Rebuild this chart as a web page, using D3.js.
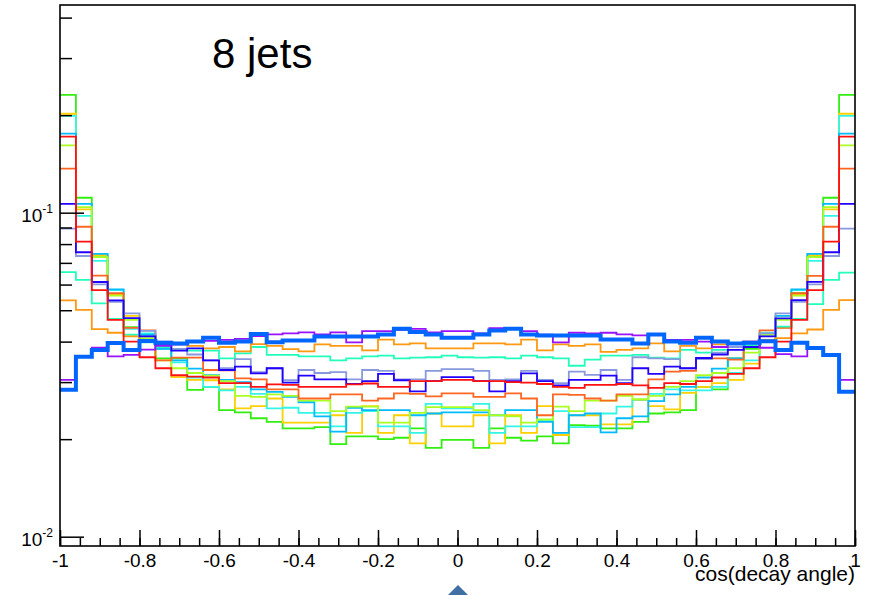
<!DOCTYPE html>
<html>
<head>
<meta charset="utf-8">
<script src="https://cdn.jsdelivr.net/npm/d3@7"></script>
<style>
  body { margin: 0; background: #fff; }
  svg { display: block; }
  text { font-family: "Liberation Sans", Arial, Helvetica, sans-serif; fill: #000; }
</style>
</head>
<body>
<svg id="chart" width="869" height="595"></svg>
<script>
// Histogram binning: 50 bins over cos(decay angle) in [-1, 1]
const binLow = -1, binHigh = 1, nBins = 50;

// Normalised distributions, one per sample (bin contents, left to right)
const greenVals = [0.2310,0.1112,0.0729,0.0560,0.0443,0.0400,0.0355,0.0355,0.0284,0.0290,
  0.0246,0.0242,0.0232,0.0226,0.0216,0.0216,0.0218,0.0193,0.0204,0.0204,
  0.0200,0.0202,0.0216,0.0188,0.0199,0.0199,0.0188,0.0216,0.0202,0.0198,
  0.0204,0.0194,0.0221,0.0220,0.0216,0.0216,0.0226,0.0240,0.0242,0.0246,
  0.0290,0.0285,0.0355,0.0380,0.0400,0.0443,0.0564,0.0729,0.1112,0.2310];
const goldVals = [0.2020,0.1024,0.0740,0.0560,0.0480,0.0420,0.0385,0.0311,0.0305,0.0304,
  0.0285,0.0249,0.0253,0.0267,0.0225,0.0225,0.0225,0.0237,0.0209,0.0253,
  0.0209,0.0237,0.0194,0.0240,0.0219,0.0219,0.0237,0.0194,0.0237,0.0209,
  0.0253,0.0206,0.0237,0.0237,0.0222,0.0222,0.0264,0.0253,0.0247,0.0278,
  0.0290,0.0298,0.0305,0.0342,0.0424,0.0480,0.0560,0.0740,0.1024,0.2020];
const cyanVals = [0.1990,0.0977,0.0710,0.0577,0.0438,0.0424,0.0380,0.0345,0.0310,0.0290,
  0.0283,0.0290,0.0276,0.0249,0.0250,0.0241,0.0241,0.0219,0.0241,0.0244,
  0.0219,0.0219,0.0209,0.0257,0.0249,0.0249,0.0257,0.0209,0.0219,0.0219,
  0.0229,0.0244,0.0218,0.0218,0.0240,0.0252,0.0265,0.0276,0.0285,0.0283,
  0.0283,0.0290,0.0320,0.0350,0.0426,0.0470,0.0577,0.0710,0.0977,0.1990];
const skyVals = [0.1753,0.1064,0.0746,0.0580,0.0470,0.0420,0.0380,0.0350,0.0330,0.0315,
  0.0305,0.0300,0.0285,0.0280,0.0270,0.0260,0.0235,0.0211,0.0250,0.0246,
  0.0246,0.0246,0.0237,0.0240,0.0242,0.0242,0.0242,0.0237,0.0246,0.0246,
  0.0226,0.0209,0.0237,0.0240,0.0210,0.0232,0.0235,0.0262,0.0275,0.0290,
  0.0310,0.0330,0.0355,0.0385,0.0420,0.0480,0.0580,0.0746,0.1064,0.1753];
const limeVals = [0.1614,0.1040,0.0729,0.0555,0.0467,0.0410,0.0350,0.0331,0.0320,0.0314,
  0.0302,0.0272,0.0270,0.0275,0.0272,0.0263,0.0263,0.0244,0.0252,0.0252,
  0.0225,0.0225,0.0241,0.0251,0.0251,0.0251,0.0246,0.0237,0.0235,0.0225,
  0.0230,0.0252,0.0244,0.0263,0.0263,0.0272,0.0266,0.0272,0.0290,0.0302,
  0.0315,0.0320,0.0331,0.0370,0.0420,0.0467,0.0555,0.0729,0.1040,0.1614];
const orangeRedVals = [0.1367,0.0905,0.0639,0.0564,0.0441,0.0433,0.0350,0.0357,0.0357,0.0327,
  0.0326,0.0308,0.0306,0.0285,0.0285,0.0267,0.0267,0.0275,0.0275,0.0263,
  0.0267,0.0277,0.0276,0.0271,0.0277,0.0277,0.0270,0.0270,0.0277,0.0267,
  0.0237,0.0275,0.0274,0.0267,0.0263,0.0275,0.0275,0.0306,0.0323,0.0325,
  0.0355,0.0355,0.0352,0.0395,0.0433,0.0441,0.0564,0.0638,0.0905,0.1367];
const tealVals = [0.0655,0.0620,0.0525,0.0470,0.0420,0.0398,0.0385,0.0380,0.0375,0.0375,
  0.0355,0.0368,0.0385,0.0364,0.0364,0.0360,0.0360,0.0350,0.0355,0.0360,
  0.0362,0.0355,0.0357,0.0358,0.0362,0.0358,0.0357,0.0358,0.0355,0.0362,
  0.0358,0.0355,0.0337,0.0352,0.0362,0.0362,0.0364,0.0357,0.0355,0.0377,
  0.0370,0.0377,0.0385,0.0390,0.0405,0.0445,0.0470,0.0522,0.0620,0.0653];
const orangeVals = [0.0536,0.0501,0.0437,0.0426,0.0415,0.0405,0.0395,0.0392,0.0388,0.0381,
  0.0385,0.0373,0.0393,0.0388,0.0379,0.0373,0.0392,0.0388,0.0388,0.0376,
  0.0406,0.0392,0.0395,0.0381,0.0381,0.0381,0.0395,0.0395,0.0392,0.0406,
  0.0376,0.0392,0.0388,0.0392,0.0372,0.0377,0.0381,0.0395,0.0373,0.0388,
  0.0381,0.0392,0.0395,0.0400,0.0405,0.0410,0.0424,0.0436,0.0501,0.0537];
const slateVals = [0.0893,0.0735,0.0601,0.0531,0.0489,0.0432,0.0400,0.0380,0.0365,0.0350,
  0.0331,0.0353,0.0322,0.0331,0.0304,0.0327,0.0320,0.0322,0.0306,0.0327,
  0.0325,0.0306,0.0306,0.0325,0.0329,0.0329,0.0325,0.0305,0.0306,0.0325,
  0.0305,0.0298,0.0323,0.0316,0.0327,0.0305,0.0358,0.0355,0.0353,0.0331,
  0.0353,0.0370,0.0385,0.0385,0.0424,0.0489,0.0531,0.0601,0.0735,0.0893];
const blueVals = [0.1064,0.0755,0.0611,0.0536,0.0473,0.0415,0.0390,0.0375,0.0381,0.0350,
  0.0327,0.0335,0.0319,0.0331,0.0299,0.0314,0.0306,0.0306,0.0296,0.0302,
  0.0318,0.0304,0.0281,0.0302,0.0311,0.0311,0.0302,0.0281,0.0302,0.0319,
  0.0302,0.0293,0.0305,0.0305,0.0314,0.0298,0.0331,0.0318,0.0335,0.0331,
  0.0356,0.0365,0.0377,0.0385,0.0415,0.0472,0.0537,0.0612,0.0755,0.1064];
const violetVals = [0.0305,0.0360,0.0383,0.0360,0.0364,0.0378,0.0388,0.0392,0.0400,0.0402,
  0.0405,0.0408,0.0416,0.0421,0.0424,0.0427,0.0421,0.0427,0.0398,0.0431,
  0.0431,0.0435,0.0438,0.0427,0.0431,0.0431,0.0424,0.0440,0.0440,0.0431,
  0.0420,0.0398,0.0426,0.0424,0.0426,0.0421,0.0418,0.0421,0.0405,0.0405,
  0.0400,0.0385,0.0395,0.0400,0.0383,0.0366,0.0360,0.0384,0.0364,0.0305];
const redVals = [0.1717,0.0814,0.0577,0.0467,0.0400,0.0358,0.0331,0.0315,0.0312,0.0310,
  0.0298,0.0298,0.0290,0.0295,0.0294,0.0290,0.0290,0.0290,0.0295,0.0297,
  0.0290,0.0290,0.0302,0.0302,0.0305,0.0305,0.0302,0.0302,0.0300,0.0299,
  0.0296,0.0290,0.0288,0.0294,0.0294,0.0296,0.0293,0.0288,0.0298,0.0296,
  0.0302,0.0310,0.0318,0.0331,0.0358,0.0400,0.0467,0.0577,0.0814,0.1717];
const thickBlueVals = [0.0284,0.0359,0.0377,0.0396,0.0377,0.0402,0.0397,0.0395,0.0400,0.0411,
  0.0397,0.0400,0.0422,0.0398,0.0403,0.0403,0.0415,0.0415,0.0415,0.0415,
  0.0421,0.0438,0.0428,0.0421,0.0411,0.0411,0.0421,0.0433,0.0438,0.0421,
  0.0418,0.0418,0.0418,0.0418,0.0406,0.0406,0.0395,0.0421,0.0400,0.0397,
  0.0411,0.0400,0.0395,0.0397,0.0401,0.0377,0.0397,0.0382,0.0364,0.0280];

// Axis ticks and labels
const xMajorTicks = [-1, -0.8, -0.6, -0.4, -0.2, 0, 0.2, 0.4, 0.6, 0.8, 1];
const xTickLabels = ["-1", "-0.8", "-0.6", "-0.4", "-0.2", "0", "0.2", "0.4", "0.6", "0.8", "1"];
const yMajorTicks = [0.01, 0.1];
const yTickExponents = ["-2", "-1"];
const yMinorTicks = [0.02, 0.03, 0.04, 0.05, 0.06, 0.07, 0.08, 0.09, 0.2, 0.3, 0.4];
const xTitle = "cos(decay angle)";
const panelTitle = "8 jets";

// Drawing order: later entries are painted on top
const series = [
  { vals: greenVals,     color: "#33ee11", width: 1.8 },
  { vals: goldVals,      color: "#ffd000", width: 1.8 },
  { vals: cyanVals,      color: "#33f5e6", width: 1.8 },
  { vals: skyVals,       color: "#00bbff", width: 1.8 },
  { vals: limeVals,      color: "#aaff22", width: 1.8 },
  { vals: orangeRedVals, color: "#ff6622", width: 1.8 },
  { vals: tealVals,      color: "#22ffbb", width: 1.8 },
  { vals: orangeVals,    color: "#ff9911", width: 1.8 },
  { vals: slateVals,     color: "#8899dd", width: 1.8 },
  { vals: blueVals,      color: "#2200ff", width: 1.8 },
  { vals: violetVals,    color: "#9911ff", width: 1.8 },
  { vals: redVals,       color: "#ff1111", width: 1.8 },
  { vals: thickBlueVals, color: "#0066ff", width: 4 }
];

const svg = d3.select("#chart");
const frame = { left: 60, right: 855, top: 5, bottom: 546 };

const x = d3.scaleLinear().domain([binLow, binHigh]).range([frame.left, frame.right]);
const y = d3.scaleLog().domain([0.00936, 0.4375]).range([frame.bottom, frame.top]);

const binWidth = (binHigh - binLow) / nBins;
const edges = d3.range(nBins + 1).map(i => binLow + i * binWidth);

// Step outline of a histogram: flat top across each bin, verticals at the edges
const stepLine = d3.line().x(d => x(d[0])).y(d => y(d[1]));
function stepPoints(vals) {
  const pts = [];
  vals.forEach((v, i) => { pts.push([edges[i], v]); pts.push([edges[i + 1], v]); });
  return pts;
}

const plot = svg.append("g");
series.forEach(s => {
  plot.append("path")
    .attr("d", stepLine(stepPoints(s.vals)))
    .attr("fill", "none")
    .attr("stroke", s.color)
    .attr("stroke-width", s.width)
    .attr("stroke-linejoin", "miter");
});

// Frame
svg.append("rect")
  .attr("x", frame.left).attr("y", frame.top)
  .attr("width", frame.right - frame.left).attr("height", frame.bottom - frame.top)
  .attr("fill", "none").attr("stroke", "#000").attr("stroke-width", 1.6);

// X axis: inward ticks, major every 0.2, minor every 0.05
const xMinor = d3.range(-1, 1.0001, 0.05).map(v => Math.round(v * 100) / 100);
const xAxisMinor = d3.axisBottom(x).tickValues(xMinor).tickSize(-8).tickFormat("");
const xAxisMajor = d3.axisBottom(x).tickValues(xMajorTicks).tickSize(-16).tickPadding(8)
  .tickFormat((d, i) => xTickLabels[i]);
const gxMinor = svg.append("g").attr("transform", `translate(0,${frame.bottom})`).call(xAxisMinor);
gxMinor.select(".domain").remove();
gxMinor.selectAll("line").attr("stroke", "#000").attr("stroke-width", 1.5);
const gx = svg.append("g").attr("transform", `translate(0,${frame.bottom})`).call(xAxisMajor);
gx.select(".domain").remove();
gx.selectAll("line").attr("stroke", "#000").attr("stroke-width", 1.5);
gx.selectAll("text").attr("font-size", 19).attr("fill", "#000")
  .attr("font-family", "Liberation Sans, Arial, sans-serif");

// Y axis: log scale, inward ticks
const yAxisMinor = d3.axisLeft(y).tickValues(yMinorTicks).tickSize(-12).tickFormat("");
const yAxisMajor = d3.axisLeft(y).tickValues(yMajorTicks).tickSize(-24).tickFormat("");
const gyMinor = svg.append("g").attr("transform", `translate(${frame.left},0)`).call(yAxisMinor);
gyMinor.select(".domain").remove();
gyMinor.selectAll("line").attr("stroke", "#000").attr("stroke-width", 1.5);
const gyMajor = svg.append("g").attr("transform", `translate(${frame.left},0)`).call(yAxisMajor);
gyMajor.select(".domain").remove();
gyMajor.selectAll("line").attr("stroke", "#000").attr("stroke-width", 1.5);

// Power-of-ten labels
yMajorTicks.forEach((v, i) => {
  const t = svg.append("text")
    .attr("x", 53).attr("y", y(v) + 9)
    .attr("text-anchor", "end");
  t.append("tspan").attr("font-size", 19).text("10");
  t.append("tspan").attr("font-size", 12).attr("dy", -9).text(yTickExponents[i]);
});

// Axis title and panel label
svg.append("text")
  .attr("x", frame.right).attr("y", 581)
  .attr("text-anchor", "end").attr("font-size", 21)
  .text(xTitle);

svg.append("text")
  .attr("x", 212).attr("y", 68)
  .attr("font-size", 42)
  .text(panelTitle);

// Small navigation marker below the axis
svg.append("path")
  .attr("d", "M458,585 L468,595 L458,605 L448,595 Z")
  .attr("fill", "#3f6fa3");
</script>
</body>
</html>
